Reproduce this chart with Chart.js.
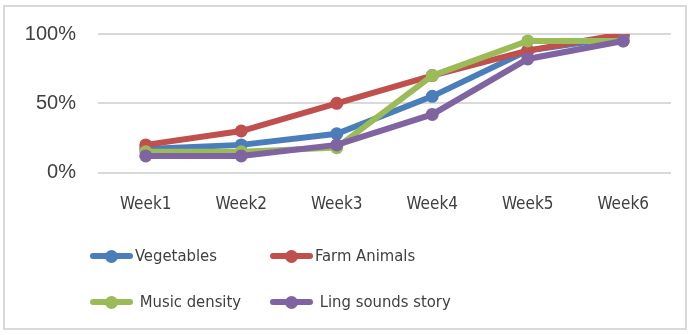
<!DOCTYPE html>
<html>
<head>
<meta charset="utf-8">
<script src="https://cdn.jsdelivr.net/npm/chart.js@4.4.0/dist/chart.umd.min.js"></script>
<style>
  body { margin: 0; background: #fff; }
  #wrap { position: relative; width: 691px; height: 335px; overflow: hidden; }
  #frame { position: absolute; left: 3px; top: 5px; width: 684px; height: 325px; border: 2px solid #d9d9d9; box-sizing: border-box; }
  #chart { position: absolute; left: 0; top: 0; }
  .leg { position: absolute; font-family: "DejaVu Sans Condensed", "DejaVu Sans", sans-serif; font-size: 16.5px; color: #404040; white-space: pre; line-height: 24px; }
  .leg .mk { position: absolute; left: 0; top: 9px; width: 43px; height: 6px; border-radius: 3px; }
  .leg .mk i { position: absolute; left: 15px; top: -3.5px; width: 13px; height: 13px; border-radius: 50%; background: inherit; }
  .leg span.t { position: absolute; left: 45px; top: 0; }
</style>
</head>
<body>
<div id="wrap">
  <div id="frame"></div>
  <canvas id="chart" width="691" height="335"></canvas>
</div>
<script>
const weeks = ['Week1', 'Week2', 'Week3', 'Week4', 'Week5', 'Week6'];
const seriesNames = ['Vegetables', 'Farm Animals', ' Music density', ' Ling sounds story'];
const vegetables = [17, 20, 28, 55, 88, 98];
const farmAnimals = [20, 30, 50, 70, 88, 100];
const musicDensity = [15, 15, 18, 70, 95, 95];
const lingSounds = [12, 12, 20, 42, 82, 95];
const colors = ['#4a7ebb', '#c0504d', '#9bbb59', '#8064a2'];
const yTicks = [0, 50, 100];

const allData = [vegetables, farmAnimals, musicDensity, lingSounds];
const textColor = '#404040';
const narrow = 'DejaVu Sans Condensed';

const datasets = allData.map((d, i) => ({
  label: seriesNames[i].trim(),
  data: d,
  borderColor: colors[i],
  backgroundColor: colors[i],
  borderWidth: 6,
  pointRadius: 6.5,
  pointHoverRadius: 6.5,
  pointBorderWidth: 0,
  tension: 0,
  order: 4 - i  // excel draws last series on top
}));

new Chart(document.getElementById('chart'), {
  type: 'line',
  data: { labels: weeks, datasets: datasets },
  options: {
    responsive: false,
    animation: false,
    layout: { padding: { left: 0, right: 20, top: 26, bottom: 98 } },
    plugins: { legend: { display: false }, tooltip: { enabled: false } },
    scales: {
      x: {
        offset: true,
        grid: { display: false, drawTicks: false },
        border: { display: false },
        ticks: { color: textColor, padding: 22, font: { family: narrow, size: 17 } }
      },
      y: {
        min: 0, max: 100,
        afterBuildTicks: s => { s.ticks = yTicks.map(v => ({ value: v })); },
        afterFit: s => { s.width = 98; },
        grid: { color: '#d9d9d9', lineWidth: 2, drawTicks: false },
        border: { display: false },
        ticks: {
          color: textColor, padding: 22,
          font: { family: 'Liberation Sans', size: 20 },
          callback: v => v + '%'
        }
      }
    }
  }
});

// legend, two columns like the original
const legPos = [[90, 244], [270, 244], [90, 290], [270, 290]];
const wrap = document.getElementById('wrap');
seriesNames.forEach((name, i) => {
  const el = document.createElement('div');
  el.className = 'leg';
  el.style.left = legPos[i][0] + 'px';
  el.style.top = legPos[i][1] + 'px';
  el.innerHTML = '<div class="mk" style="background:' + colors[i] + '"><i></i></div><span class="t"></span>';
  el.querySelector('.t').textContent = name;
  wrap.appendChild(el);
});
</script>
</body>
</html>
